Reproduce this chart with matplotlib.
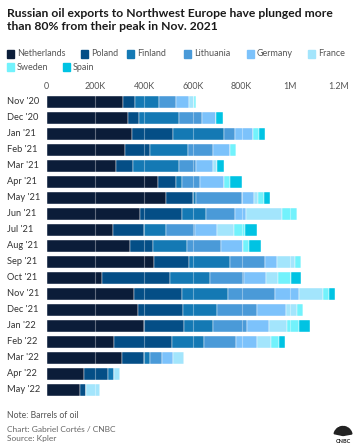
import matplotlib
matplotlib.use("Agg")
import matplotlib.pyplot as plt
from matplotlib.patches import Rectangle, Wedge
from matplotlib.transforms import blended_transform_factory
import numpy as np

plt.rcParams["font.family"] = ["Lato", "DejaVu Sans"]

# --- data (thousands of barrels) ---
months = ["Nov '20", "Dec '20", "Jan '21", "Feb '21", "Mar '21", "Apr '21",
          "May '21", "Jun '21", "Jul '21", "Aug '21", "Sep '21", "Oct '21",
          "Nov '21", "Dec '21", "Jan '22", "Feb '22", "Mar '22", "Apr '22",
          "May '22"]
countries = ["Netherlands", "Poland", "Finland", "Lithuania",
             "Germany", "France", "Sweden", "Spain"]
netherlands = [313, 333, 351, 321, 284, 457, 489, 385, 272, 341, 440, 228, 358, 374, 400, 276, 308, 153, 137]
poland = [49, 45, 167, 104, 70, 72, 113, 169, 128, 94, 143, 277, 197, 187, 162, 238, 91, 98, 26]
finland = [98, 164, 210, 154, 188, 25, 10, 98, 90, 139, 168, 164, 188, 139, 119, 131, 25, 25, 0]
lithuania = [70, 94, 46, 105, 71, 74, 188, 121, 117, 142, 145, 143, 195, 165, 142, 131, 49, 0, 0]
germany = [56, 61, 71, 68, 68, 98, 49, 46, 93, 90, 48, 90, 98, 119, 91, 89, 44, 0, 0]
france = [18, 0, 0, 0, 20, 0, 19, 147, 68, 0, 74, 48, 97, 44, 72, 55, 45, 25, 56]
sweden = [8, 0, 25, 27, 0, 25, 26, 61, 45, 25, 25, 51, 25, 26, 48, 33, 0, 0, 0]
spain = [0, 25, 25, 0, 25, 49, 22, 0, 49, 48, 0, 45, 25, 0, 46, 26, 0, 0, 0]
series = [netherlands, poland, finland, lithuania, germany, france, sweden, spain]
colors = ["#0b1d39", "#044e86", "#1479b4", "#4a9ad8",
          "#7cc2fb", "#a3e5fc", "#72f2fc", "#00c3e3"]
xticks = [0, 200, 400, 600, 800, 1000, 1200]
xtick_labels = ["0", "200K", "400K", "600K", "800K", "1M", "1.2M"]

W, H = 359, 447
fig = plt.figure(figsize=(W / 100, H / 100), dpi=100)
ax = fig.add_axes([46.7 / W, 1 - 398 / H, (339 - 46.7) / W, (398 - 94) / H])

y = np.arange(len(months))
left = np.zeros(len(months))
for vals, col in zip(series, colors):
    v = np.array(vals, dtype=float)
    ax.barh(y, v, left=left, height=0.78, color=col,
            edgecolor="white", linewidth=0.3, zorder=2)
    left += v

ax.set_xlim(0, 1200)
ax.set_ylim(len(months) - 0.5, -0.5)
ax.xaxis.tick_top()
ax.set_xticks(xticks)
ax.set_xticklabels(xtick_labels, fontsize=6.4, color="#555555")
ax.tick_params(axis="x", length=0, pad=2)
ax.set_yticks([])
for x in xticks[1:]:
    ax.axvline(x, color="white", alpha=0.35, lw=0.8, zorder=3)
for s in ax.spines.values():
    s.set_visible(False)

# month labels, left aligned at the figure edge
tr = blended_transform_factory(fig.transFigure, ax.transData)
for i, m in enumerate(months):
    fig.text(7 / W, i, m, transform=tr, ha="left", va="center",
             fontsize=6.7, color="#333333")

# title
fig.text(7 / W, 1 - 8 / H,
         "Russian oil exports to Northwest Europe have plunged more\n"
         "than 80% from their peak in Nov. 2021",
         ha="left", va="top", fontsize=8.7, fontweight="bold",
         color="#1a1a1a", linespacing=1.22)

# legend
leg_pos = [(7, 54), (81, 54), (127, 54), (184, 54), (247, 54), (308, 54),
           (7, 67), (63, 67)]
for name, col, (lx, ly) in zip(countries, colors, leg_pos):
    fig.patches.append(Rectangle(((lx) / W, 1 - (ly + 3.5) / H), 7 / W, 7 / H,
                                 transform=fig.transFigure, color=col))
    fig.text((lx + 10) / W, 1 - ly / H, name, ha="left", va="center",
             fontsize=6.5, color="#555555")

# footer
fig.text(7 / W, 1 - 416 / H, "Note: Barrels of oil", ha="left", va="center",
         fontsize=6.2, color="#555555")
fig.text(7 / W, 1 - 429 / H, "Chart: Gabriel Cortés / CNBC", ha="left",
         va="center", fontsize=6.0, color="#666666")
fig.text(7 / W, 1 - 439 / H, "Source: Kpler", ha="left", va="center",
         fontsize=6.0, color="#666666")

# small CNBC mark
lax = fig.add_axes([330 / W, 1 - 446 / H, 26 / W, 22 / H])
lax.set_xlim(-1.3, 1.3)
lax.set_ylim(-1.0, 1.2)
lax.axis("off")
for k in range(6):
    a0 = 10 + k * 27
    lax.add_patch(Wedge((0, 0.05), 0.9, a0, a0 + 23, color="#222222"))
lax.text(0, -0.55, "CNBC", ha="center", va="center", fontsize=4,
         fontweight="bold", color="#222222")

fig.savefig("out.png", dpi=100)
